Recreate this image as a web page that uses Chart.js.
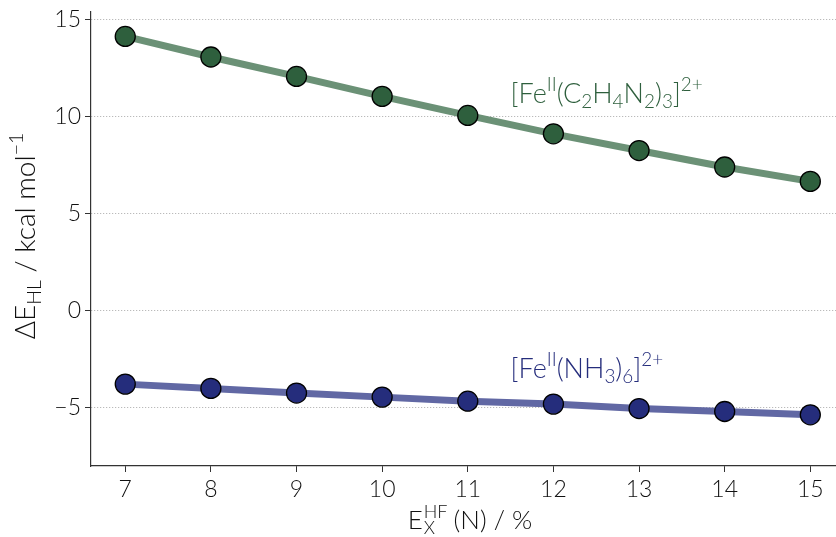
<!DOCTYPE html>
<html>
<head>
<meta charset="utf-8">
<script src="https://cdn.jsdelivr.net/npm/chart.js@4"></script>
<style>
  body { margin: 0; background: #fff; }
  #wrap { width: 836px; height: 537px; }
</style>
</head>
<body>
<div id="wrap"><canvas id="hlChart" width="836" height="537"></canvas></div>
<script>
// HF exchange fraction (%) and high-low splitting (kcal/mol)
const exchange = [7, 8, 9, 10, 11, 12, 13, 14, 15];
const enDiamine = [14.14, 13.08, 12.08, 11.05, 10.07, 9.12, 8.26, 7.41, 6.67];
const hexammine = [-3.78, -4.0, -4.24, -4.45, -4.66, -4.81, -5.04, -5.19, -5.36];
const xTicks = [7, 8, 9, 10, 11, 12, 13, 14, 15];
const yTicks = [-5, 0, 5, 10, 15];

const FONT = "Lato, 'DejaVu Sans', sans-serif";
const GREEN = "#2e5f3d";
const BLUE = "#252d7c";

// draw a run of text pieces with sub/superscripts, returns width
function richText(ctx, parts, x, y, size, color, measureOnly) {
  let cx = x;
  parts.forEach(function (p) {
    let fs = size, dy = 0;
    if (p.sup) { fs = size * 0.7; dy = -size * 0.42; }
    if (p.sub) { fs = size * 0.7; dy = size * 0.2; }
    ctx.font = "300 " + fs + "px " + FONT;
    const w = ctx.measureText(p.t).width;
    if (!measureOnly) {
      ctx.fillStyle = color;
      ctx.fillText(p.t, cx, y + dy);
    }
    cx += w;
  });
  return cx - x;
}

function points(ys) {
  return exchange.map((x, i) => ({ x: x, y: ys[i] }));
}

// keep tick label overhang from shrinking the plot area
function noPadding(scale) {
  scale.paddingTop = 0;
  scale.paddingBottom = 0;
  scale.paddingLeft = 0;
  scale.paddingRight = 0;
}

const labelPlugin = {
  id: "chemLabels",
  afterDatasetsDraw(chart) {
    const ctx = chart.ctx;
    const xs = chart.scales.x, ys = chart.scales.y;
    ctx.save();
    ctx.textBaseline = "alphabetic";
    ctx.textAlign = "left";

    const green = [
      { t: "[Fe" }, { t: "II", sup: true }, { t: "(C" }, { t: "2", sub: true },
      { t: "H" }, { t: "4", sub: true }, { t: "N" }, { t: "2", sub: true },
      { t: ")" }, { t: "3", sub: true }, { t: "]" }, { t: "2+", sup: true }
    ];
    richText(ctx, green, xs.getPixelForValue(11.5), ys.getPixelForValue(10.72), 27, GREEN);

    const blue = [
      { t: "[Fe" }, { t: "II", sup: true }, { t: "(NH" }, { t: "3", sub: true },
      { t: ")" }, { t: "6", sub: true }, { t: "]" }, { t: "2+", sup: true }
    ];
    richText(ctx, blue, xs.getPixelForValue(11.5), ys.getPixelForValue(-3.45), 27, BLUE);

    // y axis title
    const yTitle = [
      { t: "ΔE" }, { t: "HL", sub: true }, { t: " / kcal mol" }, { t: "−1", sup: true }
    ];
    const yw = richText(ctx, yTitle, 0, 0, 28, "#111", true);
    ctx.translate(35, 236);
    ctx.rotate(-Math.PI / 2);
    richText(ctx, yTitle, -yw / 2, 0, 28, "#111");
    ctx.restore();

    // x axis title, E with stacked sub/superscript
    ctx.save();
    ctx.fillStyle = "#111";
    ctx.font = "300 26px " + FONT;
    const eW = ctx.measureText("E").width;
    ctx.font = "300 18px " + FONT;
    const supW = Math.max(ctx.measureText("HF").width, ctx.measureText("X").width);
    ctx.font = "300 26px " + FONT;
    const rest = " (N) / %";
    const restW = ctx.measureText(rest).width;
    const total = eW + supW + restW;
    const x0 = 470 - total / 2;
    const base = 529;
    ctx.fillText("E", x0, base);
    ctx.font = "300 18px " + FONT;
    ctx.fillText("HF", x0 + eW + 1, base - 11);
    ctx.fillText("X", x0 + eW + 1, base + 5);
    ctx.font = "300 26px " + FONT;
    ctx.fillText(rest, x0 + eW + supW, base);
    ctx.restore();
  }
};

new Chart(document.getElementById("hlChart").getContext("2d"), {
  type: "scatter",
  data: {
    datasets: [
      {
        data: points(enDiamine),
        showLine: true,
        borderColor: "#6b9176",
        borderWidth: 7,
        backgroundColor: GREEN,
        pointBackgroundColor: GREEN,
        pointBorderColor: "#000",
        pointBorderWidth: 1.3,
        pointRadius: 10,
      },
      {
        data: points(hexammine),
        showLine: true,
        borderColor: "#6168a4",
        borderWidth: 7,
        backgroundColor: BLUE,
        pointBackgroundColor: BLUE,
        pointBorderColor: "#000",
        pointBorderWidth: 1.3,
        pointRadius: 10,
      },
    ],
  },
  options: {
    responsive: false,
    animation: false,
    layout: { autoPadding: false, padding: { top: 12, left: 0, right: 0, bottom: 0 } },
    plugins: {
      legend: { display: false },
      tooltip: { enabled: false },
    },
    scales: {
      x: {
        type: "linear",
        min: 6.6,
        max: 15.3,
        afterBuildTicks: (scale) => { scale.ticks = xTicks.map((v) => ({ value: v })); },
        afterFit: (scale) => { scale.height = 71; noPadding(scale); },
        grid: {
          drawOnChartArea: false,
          drawTicks: true,
          tickLength: 6,
          tickColor: "#333",
          tickWidth: 1,
        },
        border: { display: true, color: "#333", width: 1.2 },
        ticks: {
          color: "#111",
          padding: 4,
          font: { family: FONT, size: 23, weight: 300 },
        },
      },
      y: {
        type: "linear",
        min: -8,
        max: 15.4,
        afterBuildTicks: (scale) => { scale.ticks = yTicks.map((v) => ({ value: v })); },
        afterFit: (scale) => { scale.width = 91; noPadding(scale); },
        grid: {
          color: "#aaaaaa",
          lineWidth: 1,
          drawTicks: true,
          tickLength: 6,
          tickColor: "#333",
          tickWidth: 1,
          tickBorderDash: [],
        },
        border: { display: true, color: "#333", width: 1.2, dash: [1, 2] },
        ticks: {
          color: "#111",
          padding: 4,
          callback: (v) => (v < 0 ? "−" + Math.abs(v) : String(v)),
          font: { family: FONT, size: 23, weight: 300 },
        },
      },
    },
  },
  plugins: [labelPlugin],
});
</script>
</body>
</html>
